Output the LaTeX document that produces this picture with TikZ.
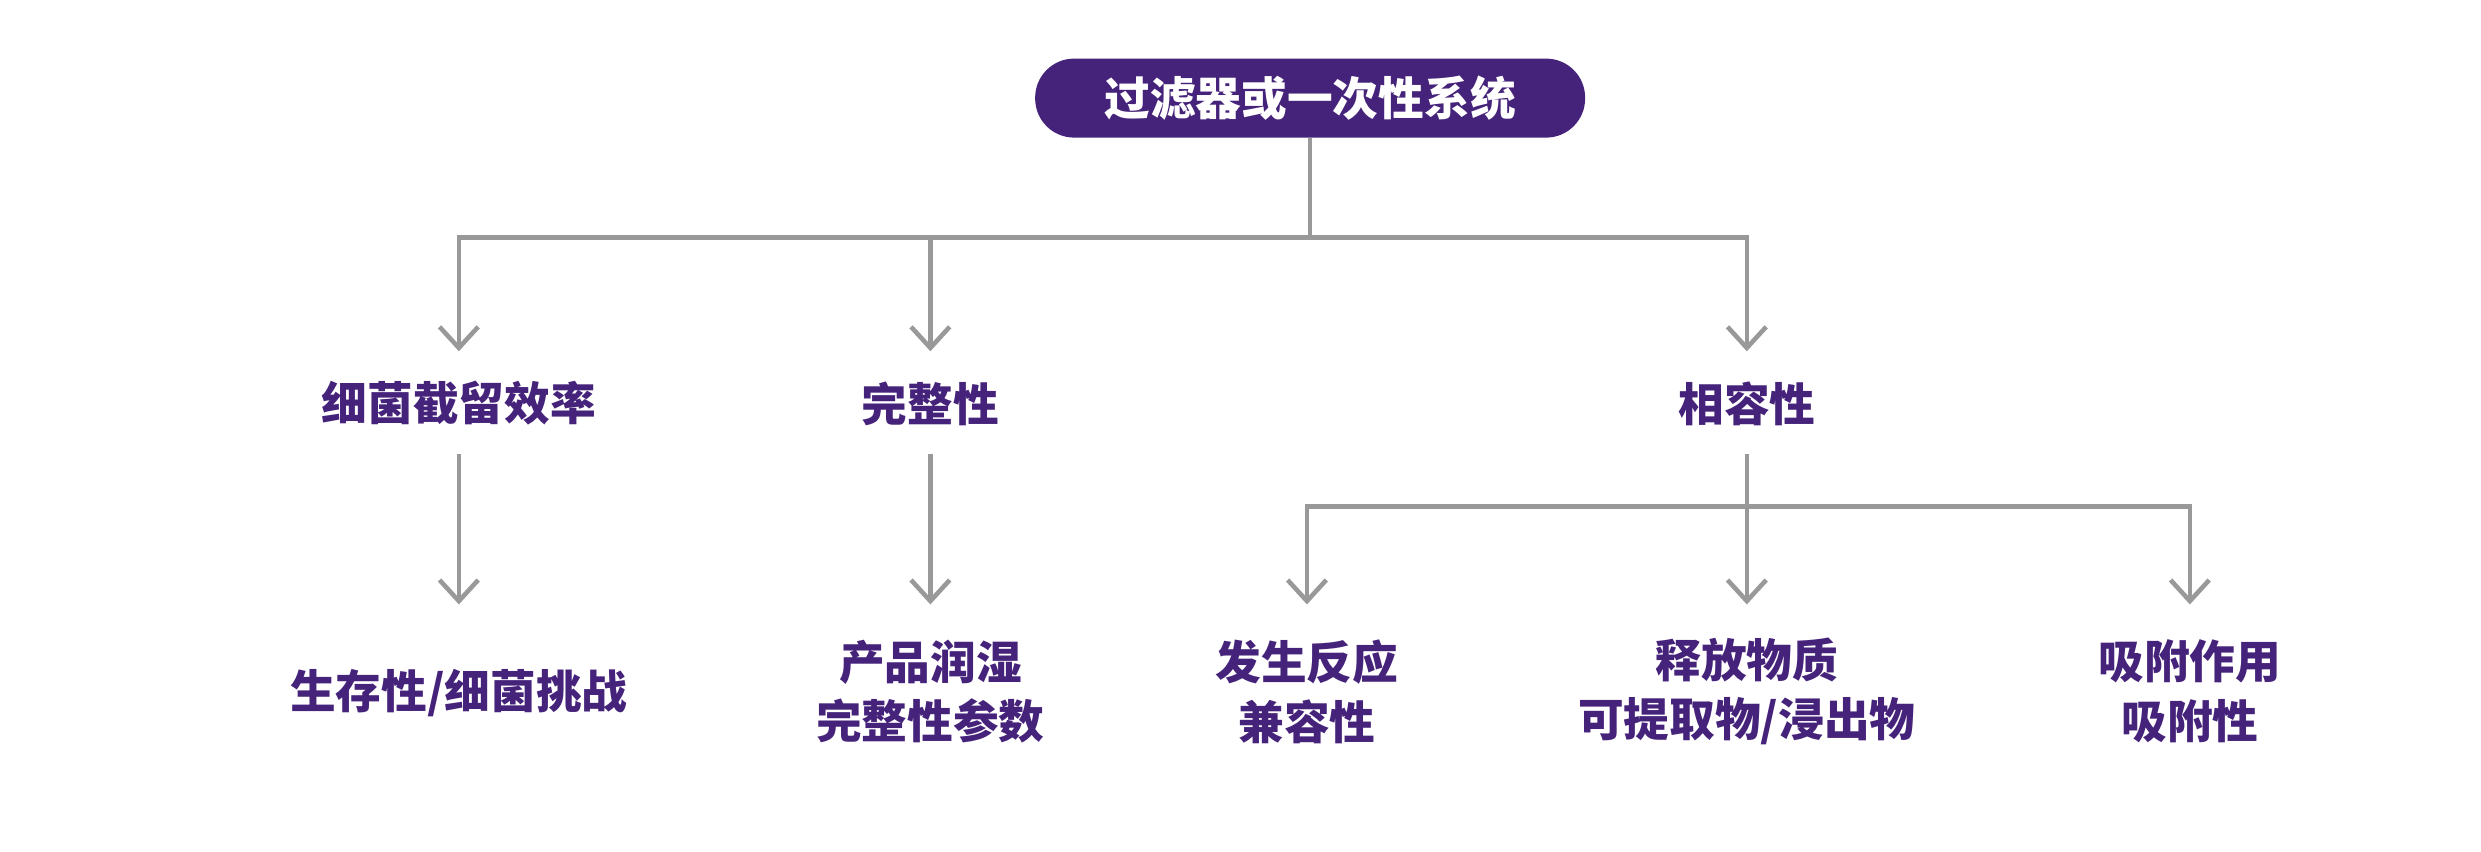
\documentclass[tikz,border=0pt]{standalone}
\usepackage{fontspec}
\setmainfont{Noto Sans CJK SC}
\usetikzlibrary{positioning,arrows.meta}
\definecolor{deeppurple}{HTML}{46237A}
\definecolor{linegray}{HTML}{999999}
\tikzset{
	top block/.style={draw=none, rectangle, rounded corners=0.39cm, fill=deeppurple, text=white, font=\fontsize{13}{17}\selectfont\bfseries, minimum width=5.5cm, minimum height=0.79cm},
	item/.style={text=deeppurple, font=\fontsize{13}{17}\selectfont\bfseries, align=center, inner sep=7pt},
	link/.style={draw=linegray, line width=1.3pt},
	arrow/.style={link, -{Straight Barb[length=6pt,width=11pt,line width=1.3pt]}},
}

\begin{document}
\begin{tikzpicture}[x=0.01582cm,y=-0.01582cm]
	\useasboundingbox (0,0) rectangle (1568,538);
	% top
	\node [top block] (sys) at (828,62) {过滤器或一次性系统};
	% second row
	\node [item] (bact) at (290,255) {细菌截留效率};
	\node [item] (integ) at (588,255) {完整性};
	\node [item] (compat) at (1104,255) {相容性};
	% third row
	\node [item] (viab) at (290,438) {生存性/细菌挑战};
	\node [item] (wet) at (588,437) {产品润湿\\完整性参数};
	\node [item] (react) at (826,437) {发生反应\\兼容性};
	\node [item] (leach) at (1104,437) {释放物质\\可提取物/浸出物};
	\node [item] (adsorb) at (1384,437) {吸附作用\\吸附性};

	\coordinate (j1) at (828,150);
	\coordinate (j2) at (1104,320);
	\draw [link] (sys.south) -- (j1);
	\draw [arrow] (j1) -| (bact.north |- 0,222);
	\draw [arrow] (j1) -| (integ.north |- 0,222);
	\draw [arrow] (j1) -| (compat.north |- 0,222);
	\draw [arrow] (bact.south |- 0,287) -- (bact.south |- 0,382);
	\draw [arrow] (integ.south |- 0,287) -- (integ.south |- 0,382);
	\draw [link] (compat.south |- 0,287) -- (j2);
	\draw [arrow] (j2) -| (react.north |- 0,382);
	\draw [arrow] (j2) -- (leach.north |- 0,382);
	\draw [arrow] (j2) -| (adsorb.north |- 0,382);
\end{tikzpicture}
\end{document}
